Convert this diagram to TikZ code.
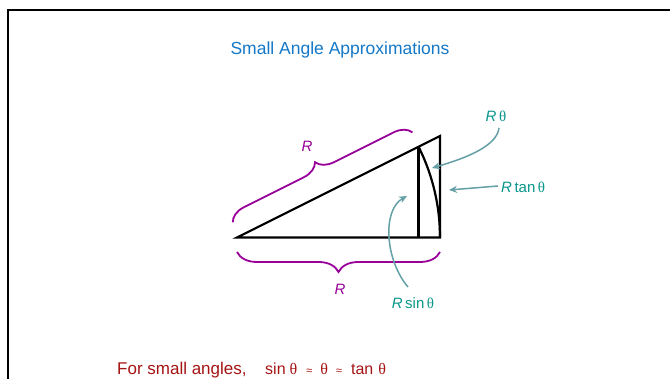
\documentclass[tikz,border=0pt]{standalone}
\usepackage{fontspec}
\setmainfont{Liberation Sans}
\newfontfamily\thetafont{Liberation Serif}
\usetikzlibrary{calc,decorations.pathreplacing,arrows.meta}
\definecolor{titleblue}{RGB}{20,120,200}
\definecolor{darkred}{RGB}{165,20,20}
\definecolor{bracepurple}{RGB}{153,0,153}
\definecolor{labelteal}{RGB}{10,150,140}
\definecolor{arrowteal}{RGB}{100,160,165}
\newcommand{\thet}{{\thetafont θ}}
\newcommand{\apx}{{\fontsize{11}{12}\selectfont ≈}}
\tikzset{
  tri/.style={line width=2.2pt, line join=miter},
  bracestyle/.style={bracepurple, line width=1.8pt, decorate},
  pointer/.style={arrowteal, line width=1.5pt, -{Stealth[length=8pt,width=7pt]}},
  tealtext/.style={labelteal, font=\fontsize{15}{18}\selectfont, inner sep=0pt},
  purpletext/.style={bracepurple, font=\fontsize{15}{18}\selectfont\itshape, inner sep=0pt},
}
\begin{document}
\begin{tikzpicture}[x=1pt,y=1pt]
\clip (0,0) rectangle (670,379);
\fill[white] (0,0) rectangle (670,379);
% frame
\draw[line width=2.8pt] (8,-10) -- (8,369) -- (690,369);
% title
\node[titleblue, font=\fontsize{17.5}{20}\selectfont, inner sep=0pt] (title) at (340,329) {Small Angle Approximations};
% triangle
\coordinate (A) at (237,141.5);
\coordinate (B) at (440,141.5);
\coordinate (C) at (440,243);
\coordinate (D) at ($(A)+(26.565:203)$);
\coordinate (E) at (D |- A);
\draw[tri] (A) -- (B) -- (C) -- cycle;
\draw[tri] (D) -- (E);
\draw[tri] (D) arc[start angle=26.565, end angle=0, radius=203];
% braces
\coordinate (lb1) at (440,127);
\coordinate (lb2) at (237,127);
\draw[bracestyle, decoration={brace, amplitude=20pt}] (lb1) -- (lb2);
\coordinate (ub1) at ($(A)+(26.565:3)+(116.565:15.5)$);
\coordinate (ub2) at ($(A)+(26.565:204)+(116.565:15.5)$);
\draw[bracestyle, decoration={brace, amplitude=17pt}] (ub1) -- (ub2);
\node[purpletext] (Rup) at (307,233) {R};
\node[purpletext] (Rlow) at (340,90) {R};
% teal labels
\node[tealtext] (Rth) at (496,263) {\textit{R}\,\thet};
\node[tealtext, anchor=west] (Rtan) at (501,192) {\textit{R}\,tan\,\thet};
\node[tealtext] (Rsin) at (413,76) {\textit{R}\,sin\,\thet};
% arrows
\coordinate (p1s) at (499,251);
\coordinate (p1e) at (432,211);
\draw[pointer] (p1s) .. controls (497,234) and (470,222) .. (p1e);
\coordinate (p2s) at (498,193);
\coordinate (p2e) at (449,189);
\draw[pointer] (p2s) -- (p2e);
\coordinate (p3s) at (408,92);
\coordinate (p3e) at (407,183);
\draw[pointer] (p3s) .. controls (385,119) and (382,169) .. (p3e);
% bottom text
\node[darkred, font=\fontsize{17}{20}\selectfont, inner sep=0pt, anchor=base west] (small) at (117,4) {For small angles,};
\node[darkred, font=\fontsize{16}{18}\selectfont, inner sep=0pt, anchor=base west] (approx) at (265,4) {sin\hspace{4pt}\thet\hspace{9pt}\apx\hspace{8pt}\thet\hspace{8pt}\apx\hspace{9pt}tan\hspace{5pt}\thet};
\end{tikzpicture}
\end{document}
